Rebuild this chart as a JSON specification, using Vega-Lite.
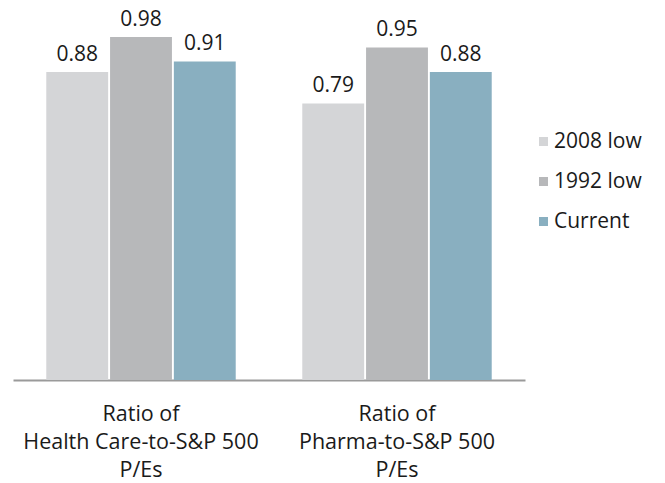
{
  "$schema": "https://vega.github.io/schema/vega-lite/v6.json",
  "width": 512,
  "height": 380,
  "autosize": {"type": "none"},
  "padding": {"left": 13, "top": 0, "right": 140, "bottom": 103},
  "background": "white",
  "config": {
    "view": {"stroke": null},
    "font": "Open Sans",
    "text": {"font": "Open Sans"}
  },
  "data": {
    "values": [
      {"group": "Ratio of|Health Care-to-S&P 500|P/Es", "series": "2008 low", "value": 0.88},
      {"group": "Ratio of|Health Care-to-S&P 500|P/Es", "series": "1992 low", "value": 0.98},
      {"group": "Ratio of|Health Care-to-S&P 500|P/Es", "series": "Current", "value": 0.91},
      {"group": "Ratio of|Pharma-to-S&P 500|P/Es", "series": "2008 low", "value": 0.79},
      {"group": "Ratio of|Pharma-to-S&P 500|P/Es", "series": "1992 low", "value": 0.95},
      {"group": "Ratio of|Pharma-to-S&P 500|P/Es", "series": "Current", "value": 0.88}
    ]
  },
  "encoding": {
    "x": {
      "field": "group", "type": "nominal", "sort": null,
      "scale": {"paddingInner": 0.26, "paddingOuter": 0.13},
      "axis": {
        "title": null, "labelAngle": 0, "ticks": false,
        "domainColor": "#9a9a9a", "domainWidth": 2,
        "labelExpr": "split(datum.label, '|')",
        "labelFontSize": 21.5, "labelColor": "#1a1a1a", "labelLineHeight": 28,
        "labelPadding": 23, "labelFont": "Open Sans", "labelLimit": 400
      }
    },
    "xOffset": {
      "field": "series", "type": "nominal", "sort": ["2008 low", "1992 low", "Current"],
      "scale": {"paddingInner": 0.03}
    },
    "y": {
      "field": "value", "type": "quantitative",
      "scale": {"domain": [0, 1.0857]},
      "axis": null
    }
  },
  "layer": [
    {
      "mark": {"type": "bar"},
      "encoding": {
        "color": {
          "field": "series", "type": "nominal",
          "sort": ["2008 low", "1992 low", "Current"],
          "scale": {"domain": ["2008 low", "1992 low", "Current"], "range": ["#d4d5d7", "#b7b8ba", "#89afc0"]},
          "legend": {
            "title": null, "orient": "none", "legendX": 520, "legendY": 131,
            "symbolType": "square", "symbolSize": 81, "symbolStrokeWidth": 0,
            "labelFontSize": 21, "labelFont": "Open Sans", "labelColor": "#1a1a1a",
            "rowPadding": 18, "labelOffset": 0
          }
        }
      }
    },
    {
      "mark": {"type": "text", "baseline": "bottom", "dy": -7, "fontSize": 21, "color": "#1a1a1a"},
      "encoding": {
        "text": {"field": "value", "type": "quantitative", "format": ".2f"}
      }
    }
  ]
}
